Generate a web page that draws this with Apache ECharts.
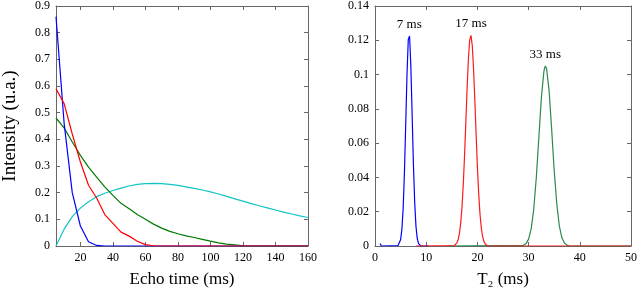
<!DOCTYPE html>
<html>
<head>
<meta charset="utf-8">
<script src="https://cdn.jsdelivr.net/npm/echarts@6/dist/echarts.min.js"></script>
<style>
html,body{margin:0;padding:0;background:#fff;}
#c{width:640px;height:293px;}
</style>
</head>
<body>
<div id="c"></div>
<script>
// ---- Left panel: echo decay curves ----
var echoTimes = [5,10,15,20,25,30,35,40,45,50,55,60,65,70,75,80,85,90,95,100,105,110,115,120,125,130,135,140,145,150,155,160];
var blueDecay = [0.86,0.46,0.2,0.075,0.016,0.002,0,0,0,0,0,0,0,0,0,0,0,0,0,0,0,0,0,0,0,0,0,0,0,0,0,0];
var redDecay = [0.59,0.534,0.42,0.315,0.228,0.18,0.118,0.085,0.052,0.037,0.018,0.005,0.001,0,0,0,0,0,0,0,0,0,0,0,0,0,0,0,0,0,0,0];
var greenDecay = [0.48,0.443,0.39,0.34,0.296,0.258,0.222,0.19,0.16,0.14,0.118,0.1,0.082,0.067,0.055,0.046,0.038,0.032,0.025,0.018,0.012,0.007,0.004,0.001,0,0,0,0,0,0,0,0];
var cyanCurve = [0,0.063,0.11,0.142,0.166,0.185,0.198,0.208,0.217,0.225,0.231,0.234,0.235,0.234,0.231,0.227,0.222,0.216,0.21,0.203,0.195,0.186,0.177,0.168,0.159,0.151,0.143,0.135,0.127,0.12,0.113,0.107];
var leftXTicks = [20,40,60,80,100,120,140,160];

// ---- Right panel: T2 distributions ----
var blueT2 = [1,1.25,4.5,4.75,5,5.25,5.5,5.75,6,6.25,6.5,6.75,7,7.25,7.5,7.75,8,8.25,8.5,8.75,9,10.5];
var blueDist = [0.0015,0,0.0003,0.0011,0.0036,0.0096,0.022,0.043,0.071,0.1,0.1205,0.1225,0.105,0.077,0.048,0.0255,0.0115,0.0044,0.0014,0.0004,0,0];
var redT2 = [8,15.5,15.75,16,16.25,16.5,16.75,17,17.25,17.5,17.75,18,18.25,18.5,18.75,19,19.25,19.5,19.75,20,20.25,20.5,20.75,21,21.25,21.5,21.75,22,50];
var redDist = [0,0.0003,0.0008,0.0018,0.0038,0.0075,0.0136,0.0231,0.0365,0.0535,0.073,0.0927,0.1095,0.1202,0.1229,0.1168,0.1033,0.085,0.065,0.0463,0.0307,0.0189,0.0108,0.0058,0.0029,0.0013,0.0006,0,0];
var greenT2 = [14,29,29.5,30,30.5,31,31.5,32,32.5,33,33.25,33.5,34,34.5,35,35.5,36,36.5,37,37.5,38,50];
var greenDist = [0,0.0004,0.0014,0.004,0.01,0.0214,0.0397,0.0632,0.0867,0.1022,0.105,0.1037,0.0906,0.0682,0.0441,0.0246,0.0118,0.0048,0.0017,0.0005,0,0];
var peakLabels = ['7 ms','17 ms','33 ms'];

function pairs(xs, ys){ return xs.map(function(x,i){return [x, ys[i]];}); }

var FONT = '"Liberation Serif","Times New Roman","DejaVu Serif",serif';
var AX = '#666';
function frameAxis(base, extra){
  var o = {
    axisLine:{show:true,onZero:false,lineStyle:{color:AX,width:1}},
    axisTick:{show:true,inside:true,length:4,lineStyle:{color:AX}},
    splitLine:{show:false},
    axisLabel:{color:'#000',fontFamily:FONT,fontSize:12,margin:6}
  };
  for (var k in base) o[k]=base[k];
  if (extra) for (var k2 in extra) o[k2]=extra[k2];
  return o;
}
function lineS(name, data, color, xi, yi, extra){
  var s = {type:'line',name:name,data:data,xAxisIndex:xi,yAxisIndex:yi,showSymbol:false,symbol:'none',
    lineStyle:{color:color,width:1.2},itemStyle:{color:color},animation:false,z:2};
  if (extra) for (var k in extra) s[k]=extra[k];
  return s;
}
function peakMark(t2, val, text){
  return {symbol:'circle',symbolSize:2,silent:true,animation:false,
    itemStyle:{color:'rgba(0,0,0,0)'},
    data:[{coord:[t2,val],name:text}],
    label:{show:true,position:'top',distance:4,formatter:text,color:'#000',fontFamily:FONT,fontSize:13}};
}

var chart = echarts.init(document.getElementById('c'), null, {renderer:'canvas'});
var opt = {
  backgroundColor:'#fff',
  animation:false,
  grid:[
    {left:48,top:5,width:260,height:246,containLabel:false},
    {left:375,top:5,width:258,height:245,containLabel:false}
  ],
  xAxis:[
    frameAxis({type:'value',gridIndex:0,min:5,max:160,position:'bottom',
      name:'Echo time (ms)',nameLocation:'middle',nameGap:25,
      nameTextStyle:{color:'#000',fontFamily:FONT,fontSize:17}},
      {axisTick:{show:true,inside:true,length:4,lineStyle:{color:AX},customValues:leftXTicks},
       axisLabel:{color:'#000',fontFamily:FONT,fontSize:12,margin:6,customValues:leftXTicks}}),
    frameAxis({type:'value',gridIndex:0,min:5,max:160,position:'top'},
      {axisTick:{show:true,inside:true,length:4,lineStyle:{color:AX},customValues:leftXTicks},
       axisLabel:{show:false}}),
    frameAxis({type:'value',gridIndex:1,min:0,max:50,interval:10,position:'bottom',
      name:'T\u2082 (ms)',nameLocation:'middle',nameGap:25,
      nameTextStyle:{color:'#000',fontFamily:FONT,fontSize:17}}),
    frameAxis({type:'value',gridIndex:1,min:0,max:50,interval:10,position:'top'},{axisLabel:{show:false}})
  ],
  yAxis:[
    frameAxis({type:'value',gridIndex:0,min:0,max:0.9,interval:0.1,position:'left',
      name:'Intensity (u.a.)',nameLocation:'middle',nameGap:36,nameRotate:90,
      nameTextStyle:{color:'#000',fontFamily:FONT,fontSize:19}}),
    frameAxis({type:'value',gridIndex:0,min:0,max:0.9,interval:0.1,position:'right'},{axisLabel:{show:false}}),
    frameAxis({type:'value',gridIndex:1,min:0,max:0.14,interval:0.02,position:'left'}),
    frameAxis({type:'value',gridIndex:1,min:0,max:0.14,interval:0.02,position:'right'},{axisLabel:{show:false}})
  ],
  series:[
    lineS('cyan', pairs(echoTimes,cyanCurve), '#10c4c4', 0, 0),
    lineS('green', pairs(echoTimes,greenDecay), '#007a00', 0, 0),
    lineS('blue', pairs(echoTimes,blueDecay), '#0000ff', 0, 0),
    lineS('red', pairs(echoTimes,redDecay), '#ff0000', 0, 0),
    lineS('blueT2', pairs(blueT2,blueDist), '#0000ff', 2, 2, {markPoint:peakMark(6.7,0.1225,peakLabels[0])}),
    lineS('greenT2', pairs(greenT2,greenDist), '#2a8a50', 2, 2, {markPoint:peakMark(33.25,0.105,peakLabels[2])}),
    lineS('redT2', pairs(redT2,redDist), '#ff1a1a', 2, 2, {markPoint:peakMark(18.75,0.1229,peakLabels[1])})
  ]
};
chart.setOption(opt);
</script>
</body>
</html>
